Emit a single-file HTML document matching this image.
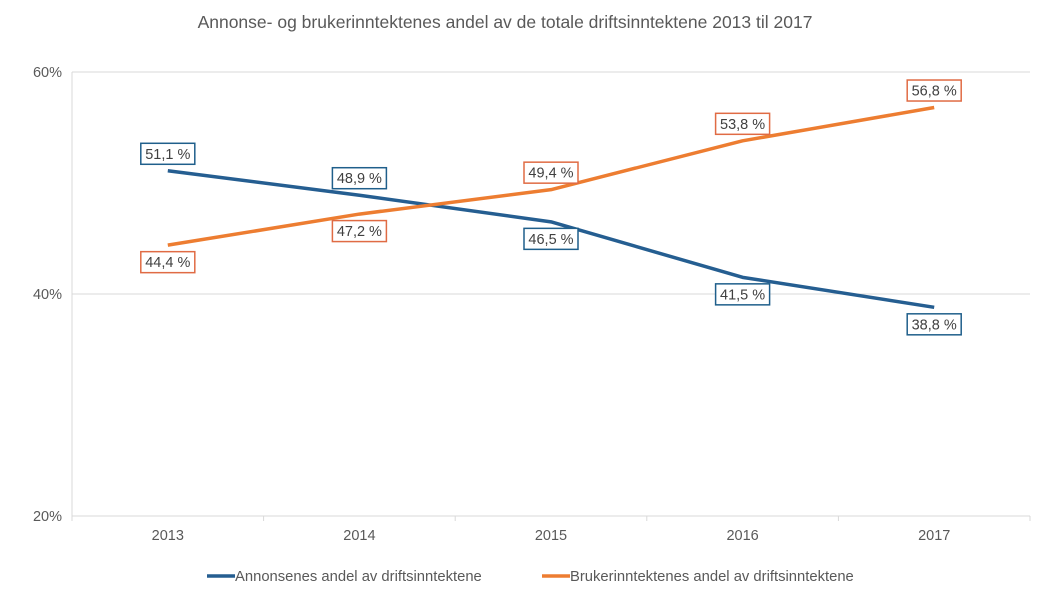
<!DOCTYPE html>
<html><head><meta charset="utf-8"><style>
body{margin:0;background:#fff;font-family:"Liberation Sans",sans-serif}
svg text{font-family:"Liberation Sans",sans-serif}
</style></head><body>
<svg width="1058" height="604" id="c">
<text x="505" y="28" text-anchor="middle" font-size="17.5" fill="#595959">Annonse- og brukerinntektenes andel av de totale driftsinntektene 2013 til 2017</text>
</svg>
<script>
const categories=["2013","2014","2015","2016","2017"];
const annonse=[51.1,48.9,46.5,41.5,38.8];
const bruker=[44.4,47.2,49.4,53.8,56.8];
const annonseLabels=["51,1 %","48,9 %","46,5 %","41,5 %","38,8 %"];
const brukerLabels=["44,4 %","47,2 %","49,4 %","53,8 %","56,8 %"];
const yTicks=[20,40,60];
const annonseAbove=[true,true,false,false,false];
const svg=document.getElementById('c');const NS="http://www.w3.org/2000/svg";
const L=72,R=1030,T=72,B=516;
const x=i=>L+(R-L)/categories.length*(i+0.5);
const y=v=>B-(v-20)/40*(B-T);
function el(t,a,p){const e=document.createElementNS(NS,t);for(const k in a)e.setAttribute(k,a[k]);(p||svg).appendChild(e);return e;}
yTicks.forEach(v=>{const g=el('line',{x1:L,x2:R,y1:y(v),y2:y(v),stroke:'#d9d9d9','stroke-width':1});

const t=el('text',{x:L-10,y:y(v)+5,'text-anchor':'end','font-size':14.5,fill:'#595959'});t.textContent=v+'%';
});
el('line',{x1:L,x2:L,y1:T,y2:B,stroke:'#d9d9d9'});
for(let i=0;i<=categories.length;i++){const tk=el('line',{x1:L+(R-L)/categories.length*i,x2:L+(R-L)/categories.length*i,y1:B,y2:B+5,stroke:'#d9d9d9'});
}
categories.forEach((c,i)=>{const t=el('text',{x:x(i),y:B+24,'text-anchor':'middle','font-size':14.5,fill:'#595959'});t.textContent=c;
});
function series(vals,labels,above,color,bc,name){
const p=el('polyline',{points:vals.map((v,i)=>x(i)+','+y(v)).join(' '),fill:'none',stroke:color,'stroke-width':3.5,'stroke-linejoin':'round'});

vals.forEach((v,i)=>{const cy=y(v)+(above[i]?-17:17);
const r=el('rect',{x:x(i)-27,y:cy-10.5,width:54,height:21,fill:'#fff',stroke:bc,'stroke-width':1.5});

const t=el('text',{x:x(i),y:cy+5,'text-anchor':'middle','font-size':14.5,fill:'#404040'});t.textContent=labels[i];
});}
series(annonse,annonseLabels,annonseAbove,'#255e91','#1f5f8b','annonse');
series(bruker,brukerLabels,annonseAbove.map(a=>!a),'#ed7d31','#e06b44','bruker');
[[207,'#255e91','Annonsenes andel av driftsinntektene','legend-annonse'],[542,'#ed7d31','Brukerinntektenes andel av driftsinntektene','legend-bruker']].forEach(d=>{
const g=el('g',{});
el('line',{x1:d[0],x2:d[0]+28,y1:576,y2:576,stroke:d[1],'stroke-width':3.5},g);
const t=el('text',{x:d[0]+28,y:581,'font-size':14.8,fill:'#595959'},g);t.textContent=d[2];});
</script>
</body></html>
